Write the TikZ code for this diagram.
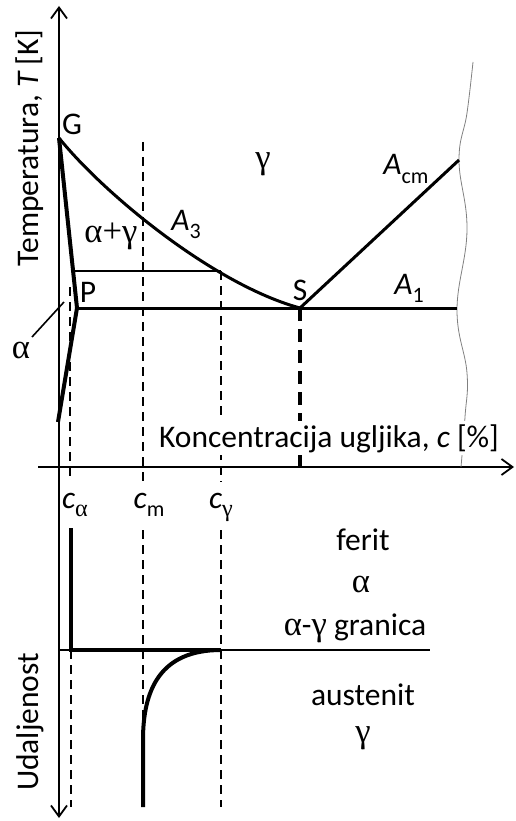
\documentclass[tikz,border=0pt]{standalone}
\usepackage{fontspec}
\setmainfont{Carlito}
\newfontfamily\gr[Scale=1.1]{Liberation Serif}
\usetikzlibrary{arrows.meta}
\newcommand\galpha{{\gr α}}
\newcommand\ggamma{{\gr γ}}
\newcommand\sbs[1]{\raisebox{-0.28em}{\fontsize{22}{22}\selectfont #1}}
\begin{document}
\begin{tikzpicture}[x=1pt,y=-1pt,
  font=\fontsize{31.5}{36}\selectfont,
  >={Straight Barb[length=11pt,width=16pt]},
  axis/.style={line width=1.8pt},
  phase/.style={line width=3pt},
  heavy/.style={line width=4pt},
  thinln/.style={line width=1.6pt},
  dsh/.style={line width=1.6pt, dash pattern=on 9pt off 6pt},
  sdsh/.style={line width=3.6pt, dash pattern=on 13pt off 8pt},
  lbl/.style={inner sep=0pt, anchor=base}]
\useasboundingbox (0,0) rectangle (515,821);
% coordinates
\coordinate (Ttop) at (59,6);
\coordinate (Tbot) at (59,818);
\coordinate (cL) at (38,467);
\coordinate (cR) at (514,467);
\coordinate (G) at (59,138);
\coordinate (P) at (77,308);
\coordinate (Pb) at (58,422);
\coordinate (S) at (300,308);
\coordinate (Acme) at (459,160);
\coordinate (A1e) at (457,308);
\coordinate (TL) at (72,271);
\coordinate (TR) at (221,271);
\coordinate (Sax) at (300,467);
\coordinate (caT) at (70,287);
\coordinate (caB) at (70,480);
\coordinate (cmT) at (143,142);
\coordinate (cmB) at (143,482);
\coordinate (cgB) at (221,482);
\coordinate (caT2) at (71,650);
\coordinate (caB2) at (71,807);
\coordinate (cmT2) at (143,530);
\coordinate (cmB2) at (143,807);
\coordinate (cgT2) at (221,530);
\coordinate (cgB2) at (221,807);
\coordinate (fTop) at (71,528);
\coordinate (bL) at (59,650);
\coordinate (bR) at (430,650);
\coordinate (bM) at (221,650);
\coordinate (aL1) at (32,337);
\coordinate (aL2) at (64,302);
% axes
\draw[axis, <->] (Ttop) -- (Tbot);
\draw[axis, ->] (cL) -- (cR);
% wavy break line
\draw[gray, line width=0.8pt] plot[smooth, tension=0.7] coordinates
  {(473,62) (467,113) (459,160) (467,230) (457,310) (467,373) (465,417) (461,467)};
% dashed verticals (top part)
\draw[dsh] (caT) -- (caB);
\draw[dsh] (cmT) -- (cmB);
\draw[dsh] (TR) -- (cgB);
\draw[sdsh] (S) -- (Sax);
% dashed verticals (bottom part)
\draw[dsh] (caT2) -- (caB2);
\draw[dsh] (cmT2) -- (cmB2);
\draw[dsh] (cgT2) -- (cgB2);
% phase lines
\draw[heavy, line join=miter] (G) -- (P) -- (Pb);
\draw[phase] (G) .. controls (105,195) and (215,285) .. (S);
\draw[phase] (S) -- (Acme);
\draw[phase] (P) -- (A1e);
\draw[thinln] (TL) -- (TR);
\draw[thinln] (aL1) -- (aL2);
% bottom profile
\draw[thinln] (bL) -- (bR);
\draw[heavy] (fTop) -- (caT2) -- (bM);
\draw[heavy] (bM) .. controls (160,650) and (143,690) .. (143,740) -- (cmB2);
% labels
\node[rotate=90] (Tlab) at (30,148) {Temperatura, {\itshape T} [K]};
\node[rotate=90] (Ulab) at (30,722) {Udaljenost};
\node[lbl] (Gl) at (72,135) {G};
\node[lbl] (gl) at (263,168) {\ggamma};
\node[lbl] (Acml) at (406,175) {{\itshape A}\sbs{cm}};
\node[lbl] (agl) at (111,242) {\galpha{\gr +}\ggamma};
\node[lbl] (A3l) at (186,230) {{\itshape A}\sbs{3}};
\node[lbl] (Pl) at (88,302) {P};
\node[lbl] (Sl) at (300,300) {S};
\node[lbl] (A1l) at (409,294) {{\itshape A}\sbs{1}};
\node[lbl] (al) at (21,358) {\galpha};
\node[lbl, fill=white, inner ysep=3pt, inner xsep=1pt] (kon) at (329,447) {Koncentracija ugljika, {\itshape c} [\%]};
\node[lbl] (cal) at (75,508) {{\itshape c}\sbs{\galpha}};
\node[lbl] (cml) at (149,508) {{\itshape c}\sbs{m}};
\node[lbl] (cgl) at (221,508) {{\itshape c}\sbs{\ggamma}};
\node[lbl] (fer) at (363,550) {ferit};
\node[lbl] (fa) at (361,592) {\galpha};
\node[lbl] (gran) at (355,635) {\galpha-\ggamma{} granica};
\node[lbl] (aus) at (363,705) {austenit};
\node[lbl] (ag2) at (363,742) {\ggamma};
\end{tikzpicture}
\end{document}
